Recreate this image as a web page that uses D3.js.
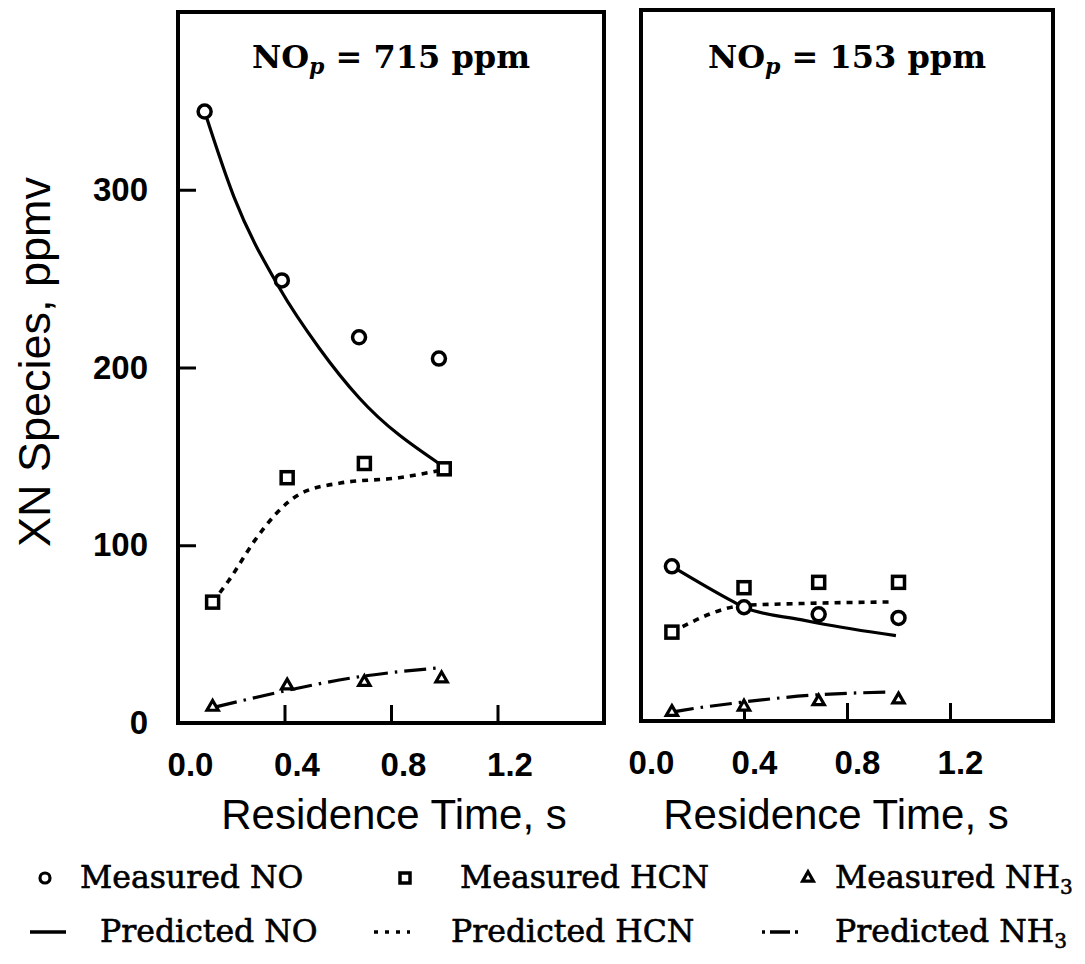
<!DOCTYPE html>
<html>
<head>
<meta charset="utf-8">
<script src="https://cdn.jsdelivr.net/npm/d3@7/dist/d3.min.js"></script>
<style>
  body { margin: 0; background: #fff; }
  svg { display: block; }
</style>
</head>
<body>
<script>
// Measured / predicted XN species, [residence time (s), ppmv]
var measNO_715  = [[0.10, 344], [0.39, 249], [0.68, 217], [0.98, 205]];
var measHCN_715 = [[0.13, 68], [0.41, 138], [0.70, 146], [1.00, 143]];
var measNH3_715 = [[0.13, 9], [0.41, 21], [0.70, 23], [0.99, 25]];
var predNO_715  = [[0.10, 344], [0.21, 296], [0.38, 245], [0.53, 211], [0.68, 183], [0.98, 146]];
var predHCN_715 = [[0.13, 68], [0.19, 80], [0.29, 103], [0.37, 118], [0.46, 129], [0.61, 135], [0.83, 138], [0.98, 142]];
var predNH3_715 = [[0.14, 9], [0.37, 17], [0.68, 26], [0.84, 29], [0.98, 31]];

var measNO_153  = [[0.12, 87], [0.40, 64], [0.69, 60], [1.00, 58]];
var measHCN_153 = [[0.12, 50], [0.40, 75], [0.69, 78], [1.00, 78]];
var measNH3_153 = [[0.12, 5], [0.40, 8], [0.69, 11], [1.00, 12]];
var predNO_153  = [[0.12, 87], [0.36, 67], [0.40, 64], [0.62, 57], [0.69, 55], [0.99, 48]];
var predHCN_153 = [[0.12, 50], [0.40, 65], [0.60, 66], [0.98, 67]];
var predNH3_153 = [[0.12, 5], [0.16, 6], [0.36, 10], [0.67, 14.6], [0.97, 16.3]];

var xTicks = [0.0, 0.4, 0.8, 1.2];
var yTicks = [0, 100, 200, 300];
var panelTitles = ["715", "153"];

var W = 1085, H = 964;
var svg = d3.select("body").append("svg").attr("width", W).attr("height", H);

var sansFont = "'Liberation Sans', Arial, sans-serif";
var serifFont = "'DejaVu Serif', serif";

var panels = [
    { title: panelTitles[0], x0: 178, x1: 604, top: 12, bottom: 723, yAxis: true,
      ticks: [0.4, 0.8, 1.2], labelDx: 12, titleX: 394,
      mNO: measNO_715, mHCN: measHCN_715, mNH3: measNH3_715,
      pNO: predNO_715, pHCN: predHCN_715, pNH3: predNH3_715 },
    { title: panelTitles[1], x0: 641, x1: 1053, top: 10, bottom: 721, yAxis: false,
      ticks: [0.4, 0.8, 1.2], labelDx: 10, titleX: 836,
      mNO: measNO_153, mHCN: measHCN_153, mNH3: measNH3_153,
      pNO: predNO_153, pHCN: predHCN_153, pNH3: predNH3_153 }
];

function drawPanel(p) {
    var x = d3.scaleLinear().domain([0, 1.6]).range([p.x0, p.x1]);
    var y = d3.scaleLinear().domain([0, 400]).range([p.bottom, p.top]);
    var g = svg.append("g");

    // x ticks (inward) and labels
    var xAxis = d3.axisBottom(x).tickValues(xTicks).tickSizeInner(-18).tickSizeOuter(0)
        .tickPadding(30).tickFormat(d3.format(".1f"));
    var gx = g.append("g").attr("transform", "translate(0," + p.bottom + ")").call(xAxis);
    gx.select(".domain").remove();
    gx.selectAll(".tick line").attr("stroke", "#000").attr("stroke-width", 3)
        .attr("display", function (d) { return p.ticks.indexOf(d) < 0 ? "none" : null; });
    gx.selectAll(".tick text").attr("dx", p.labelDx)
        .attr("font-family", sansFont).attr("font-weight", "bold").attr("font-size", 33)
        .attr("fill", "#000");

    if (p.yAxis) {
        var yAxis = d3.axisLeft(y).tickValues(yTicks).tickSizeInner(-18).tickSizeOuter(0)
            .tickPadding(30).tickFormat(d3.format("d"));
        var gy = g.append("g").attr("transform", "translate(" + p.x0 + ",0)").call(yAxis);
        gy.select(".domain").remove();
        gy.selectAll(".tick line").attr("stroke", "#000").attr("stroke-width", 3);
        gy.selectAll(".tick text").attr("font-family", sansFont).attr("font-weight", "bold")
            .attr("font-size", 33).attr("fill", "#000");
    }

    // frame
    g.append("rect").attr("x", p.x0).attr("y", p.top)
        .attr("width", p.x1 - p.x0).attr("height", p.bottom - p.top)
        .attr("fill", "none").attr("stroke", "#000").attr("stroke-width", 4);

    // title
    var t = g.append("text").attr("x", (p.x0 + p.x1) / 2).attr("y", 68)
        .attr("text-anchor", "middle").attr("font-family", serifFont)
        .attr("font-weight", "bold").attr("font-size", 32).attr("fill", "#000");
    t.append("tspan").text("NO");
    t.append("tspan").attr("font-style", "italic").attr("font-size", 22).attr("dy", 6).text("p");
    t.append("tspan").attr("dy", -6).text(" = " + p.title + " ppm");

    var line = d3.line().x(function (d) { return x(d[0]); }).y(function (d) { return y(d[1]); })
        .curve(d3.curveMonotoneX);

    g.append("path").datum(p.pNO).attr("d", line).attr("fill", "none")
        .attr("stroke", "#000").attr("stroke-width", 3.2);
    g.append("path").datum(p.pHCN).attr("d", line).attr("fill", "none")
        .attr("stroke", "#000").attr("stroke-width", 3.6).attr("stroke-dasharray", "6,6");
    g.append("path").datum(p.pNH3).attr("d", line).attr("fill", "none")
        .attr("stroke", "#000").attr("stroke-width", 3.2).attr("stroke-dasharray", "22,7,2.5,7");

    g.selectAll(".mno").data(p.mNO).enter().append("circle")
        .attr("cx", function (d) { return x(d[0]); }).attr("cy", function (d) { return y(d[1]); })
        .attr("r", 6.5).attr("fill", "#fff").attr("stroke", "#000").attr("stroke-width", 3.5);
    g.selectAll(".mhcn").data(p.mHCN).enter().append("rect")
        .attr("x", function (d) { return x(d[0]) - 6; }).attr("y", function (d) { return y(d[1]) - 6; })
        .attr("width", 12).attr("height", 12)
        .attr("fill", "#fff").attr("stroke", "#000").attr("stroke-width", 3.5);
    g.selectAll(".mnh3").data(p.mNH3).enter().append("path")
        .attr("transform", function (d) { return "translate(" + x(d[0]) + "," + y(d[1]) + ")"; })
        .attr("d", d3.symbol().type(d3.symbolTriangle).size(55))
        .attr("fill", "#fff").attr("stroke", "#000").attr("stroke-width", 3.2);

    // x axis title
    svg.append("text").attr("x", p.titleX).attr("y", 829)
        .attr("text-anchor", "middle").attr("font-family", sansFont)
        .attr("font-size", 42).attr("fill", "#000").text("Residence Time, s");
}

panels.forEach(drawPanel);

// y axis title
svg.append("text").attr("transform", "translate(50,362) rotate(-90)")
    .attr("text-anchor", "middle").attr("font-family", sansFont)
    .attr("font-size", 45).attr("fill", "#000").text("XN Species, ppmv");

// legend
var legendRows = [
    [{ mark: "circle", label: "Measured NO", x: 45, tx: 80 },
     { mark: "square", label: "Measured HCN", x: 405, tx: 460 },
     { mark: "triangle", label: "Measured NH", sub: "3", x: 808, tx: 835 }],
    [{ mark: "solid", label: "Predicted NO", x: 48, tx: 100 },
     { mark: "dot", label: "Predicted HCN", x: 392, tx: 451 },
     { mark: "dashdot", label: "Predicted NH", sub: "3", x: 780, tx: 835 }]
];
var rowY = [888, 942];

legendRows.forEach(function (row, ri) {
    var cy = rowY[ri] - 10;
    row.forEach(function (it) {
        var lg = svg.append("g");
        if (it.mark === "circle") {
            lg.append("circle").attr("cx", it.x).attr("cy", cy).attr("r", 5)
                .attr("fill", "#fff").attr("stroke", "#000").attr("stroke-width", 3.2);
        } else if (it.mark === "square") {
            lg.append("rect").attr("x", it.x - 5).attr("y", cy - 5).attr("width", 10).attr("height", 10)
                .attr("fill", "#fff").attr("stroke", "#000").attr("stroke-width", 3.5);
        } else if (it.mark === "triangle") {
            lg.append("path").attr("transform", "translate(" + it.x + "," + cy + ")")
                .attr("d", d3.symbol().type(d3.symbolTriangle).size(50))
                .attr("fill", "#fff").attr("stroke", "#000").attr("stroke-width", 3.2);
        } else {
            var dash = it.mark === "solid" ? null : (it.mark === "dot" ? "4,7" : "3,5,20,5,3");
            lg.append("line").attr("x1", it.x - 18).attr("x2", it.x + 18)
                .attr("y1", cy).attr("y2", cy).attr("stroke", "#000").attr("stroke-width", 3.5)
                .attr("stroke-dasharray", dash);
        }
        var t = lg.append("text").attr("x", it.tx).attr("y", rowY[ri])
            .attr("font-family", serifFont).attr("font-size", 31.5).attr("fill", "#000")
            .attr("stroke", "#000").attr("stroke-width", 0.6);
        t.append("tspan").text(it.label);
        if (it.sub) t.append("tspan").attr("font-size", 20).attr("dy", 6).text(it.sub);
    });
});
</script>
</body>
</html>
